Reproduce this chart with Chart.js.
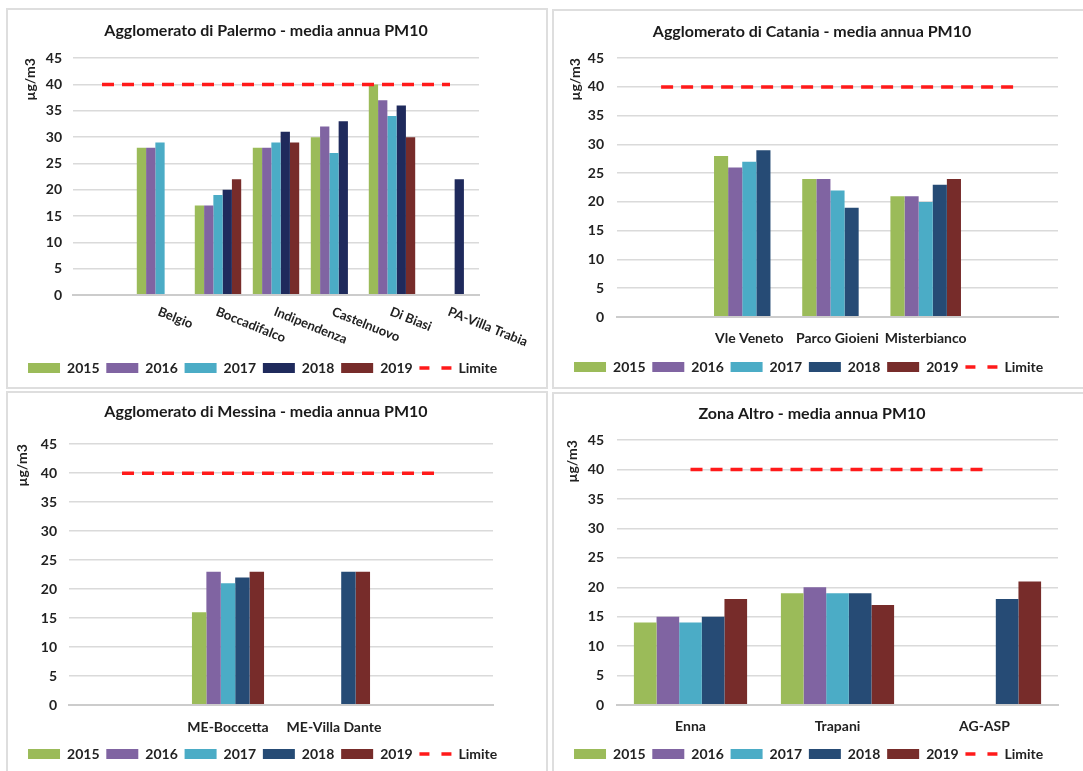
<!DOCTYPE html>
<html>
<head>
<meta charset="utf-8">
<script src="https://cdn.jsdelivr.net/npm/chart.js@4.4.0/dist/chart.umd.min.js"></script>
<style>
  html, body { margin: 0; padding: 0; background: #fff; width: 1083px; height: 771px; overflow: hidden; }
  .panel { position: absolute; border: 2px solid #dedede; box-sizing: border-box; overflow: hidden; background: #fff; }
  .panel canvas { position: absolute; left: 0; top: 0; }
</style>
</head>
<body>
<div class="panel" style="left:6px;top:8px;width:542px;height:381px;"><canvas id="c1" width="538" height="377"></canvas></div>
<div class="panel" style="left:552px;top:9px;width:540px;height:380px;"><canvas id="c2" width="529" height="376"></canvas></div>
<div class="panel" style="left:6px;top:391px;width:542px;height:400px;"><canvas id="c3" width="538" height="378"></canvas></div>
<div class="panel" style="left:552px;top:392px;width:540px;height:400px;"><canvas id="c4" width="529" height="377"></canvas></div>
<script>
// data (µg/m3, media annua PM10)
const years = ['2015', '2016', '2017', '2018', '2019'];

const palermoStations = ['', 'Belgio', 'Boccadifalco', 'Indipendenza', 'Castelnuovo', 'Di Biasi', 'PA-Villa Trabia'];
const palermo2015 = [null, 28, 17, 28, 30, 40, null];
const palermo2016 = [null, 28, 17, 28, 32, 37, null];
const palermo2017 = [null, 29, 19, 29, 27, 34, null];
const palermo2018 = [null, null, 20, 31, 33, 36, 22];
const palermo2019 = [null, null, 22, 29, null, 30, null];
const palermoLimit = [40, 40, 40, 40, 40, 40, 40];

const cataniaStations = ['', 'Vle Veneto', 'Parco Gioieni', 'Misterbianco', ''];
const catania2015 = [null, 28, 24, 21, null];
const catania2016 = [null, 26, 24, 21, null];
const catania2017 = [null, 27, 22, 20, null];
const catania2018 = [null, 29, 19, 23, null];
const catania2019 = [null, null, null, 24, null];
const cataniaLimit = [40, 40, 40, 40, 40];

const messinaStations = ['', 'ME-Boccetta', 'ME-Villa Dante', ''];
const messina2015 = [null, 16, null, null];
const messina2016 = [null, 23, null, null];
const messina2017 = [null, 21, null, null];
const messina2018 = [null, 22, 23, null];
const messina2019 = [null, 23, 23, null];
const messinaLimit = [40, 40, 40, 40];

const altroStations = ['Enna', 'Trapani', 'AG-ASP'];
const altro2015 = [14, 19, null];
const altro2016 = [15, 20, null];
const altro2017 = [14, 19, null];
const altro2018 = [15, 19, 18];
const altro2019 = [18, 17, 21];
const altroLimit = [40, 40, 40];

const yMin = 0, yMax = 45, yStep = 5;

// styles
const barColors = ['#9BBB59', '#8064A2', '#4BACC6', '#264B75', '#772C2A'];
const textColor = '#222222';

Chart.defaults.font.family = 'Lato';
Chart.defaults.font.weight = 'bold';
Chart.defaults.color = textColor;

function rotatedLabels(labels) {
    return {
        id: 'rotatedLabels',
        afterDraw(chart) {
            const xs = chart.scales.x;
            const ctx = chart.ctx;
            ctx.save();
            ctx.font = 'bold 13px Lato';
            ctx.fillStyle = textColor;
            ctx.textAlign = 'left';
            ctx.textBaseline = 'top';
            labels.forEach((s, i) => {
                if (!s) return;
                ctx.save();
                ctx.translate(xs.getPixelForValue(i) + 1, xs.top + 10);
                ctx.rotate(22 * Math.PI / 180);
                ctx.fillText(s, 0, 0);
                ctx.restore();
            });
            ctx.restore();
        }
    };
}

function makeChart(id, title, labels, series, limit, g) {
    const datasets = series.map((vals, k) => ({
        type: 'bar',
        label: years[k],
        data: vals,
        backgroundColor: (k === 3 && g.c18) ? g.c18 : barColors[k],
        borderWidth: 0,
        categoryPercentage: g.cat,
        barPercentage: 1,
    }));
    datasets.push({
        type: 'line',
        label: 'Limite',
        data: limit,
        borderColor: '#FF1A1A',
        borderWidth: 3.5,
        borderDash: [12, 8],
        pointRadius: 0,
        fill: false,
        order: -1,
    });
    return new Chart(document.getElementById(id), {
        type: 'bar',
        data: { labels: labels, datasets: datasets },
        plugins: g.rotate ? [rotatedLabels(labels)] : [],
        options: {
            responsive: false,
            animation: false,
            events: [],
            layout: { padding: { top: 0, left: 0, right: g.padR, bottom: g.padB } },
            scales: {
                x: {
                    grid: { display: false },
                    border: { display: true, color: '#cccccc', width: 2 },
                    ticks: { display: !g.rotate, padding: g.xPad, font: { size: 14, weight: 'bold' }, color: textColor, maxRotation: 0, autoSkip: false },
                    afterFit: (s) => { s.height = g.xH; },
                },
                y: {
                    min: yMin,
                    max: yMax,
                    border: { display: false },
                    grid: {
                        drawTicks: false,
                        color: (c) => c.tick && c.tick.value === 0 ? '#cccccc' : '#dadada',
                        lineWidth: (c) => c.tick && c.tick.value === 0 ? 2 : 1.5,
                    },
                    ticks: { stepSize: yStep, padding: g.yPad, font: { size: 14, weight: 'bold' }, color: textColor },
                    title: { display: true, text: 'µg/m3', align: 'end', font: { size: 14, weight: 'bold' }, color: textColor, padding: { top: g.yTitlePad, bottom: 0 } },
                    afterFit: (s) => { s.width = g.yW; },
                },
                yR: {
                    type: 'linear',
                    position: 'right',
                    display: true,
                    grid: { display: false, drawTicks: false },
                    border: { display: false },
                    ticks: { display: false },
                    afterFit: (s) => { s.width = g.rightW; },
                },
            },
            plugins: {
                tooltip: { enabled: false },
                title: {
                    display: true,
                    text: title,
                    font: { size: 16, weight: 'bold' },
                    color: '#1a1a1a',
                    padding: { top: g.tTop, bottom: g.tBottom },
                },
                legend: {
                    position: 'bottom',
                    labels: {
                        usePointStyle: true,
                        pointStyleWidth: 32,
                        boxHeight: 10,
                        padding: 0,
                        font: { size: 14, weight: 'bold' },
                        color: textColor,
                        sort: (a, b) => a.datasetIndex - b.datasetIndex,
                        generateLabels: (chart) => {
                            const items = Chart.defaults.plugins.legend.labels.generateLabels(chart);
                            items.forEach((it) => {
                                it.text = it.text + '  ';
                                if (it.datasetIndex === years.length) {
                                    it.pointStyle = 'line';
                                    it.lineDash = [10, 12];
                                    it.lineWidth = 3.5;
                                    it.strokeStyle = '#FF1A1A';
                                } else {
                                    it.pointStyle = 'rect';
                                    it.lineWidth = 0;
                                }
                            });
                            return items;
                        },
                    },
                },
            },
        },
    });
}

makeChart('c1', 'Agglomerato di Palermo - media annua PM10', palermoStations,
    [palermo2015, palermo2016, palermo2017, palermo2018, palermo2019], palermoLimit,
    { c18: '#1F2A5C', cat: 0.8, rotate: true, yW: 65, yPad: 11, yTitlePad: 14, rightW: 45, padR: 22, padB: 2, tTop: 11, tBottom: 18, xH: 66, xPad: 0 });

makeChart('c2', 'Agglomerato di Catania - media annua PM10', cataniaStations,
    [catania2015, catania2016, catania2017, catania2018, catania2019], cataniaLimit,
    { cat: 0.8, yW: 63, yPad: 13, yTitlePad: 13, rightW: 12, padR: 13, padB: 3, tTop: 11, tBottom: 17, xH: 43, xPad: 5 });

makeChart('c3', 'Agglomerato di Messina - media annua PM10', messinaStations,
    [messina2015, messina2016, messina2017, messina2018, messina2019], messinaLimit,
    { cat: 0.68, yW: 61, yPad: 12, yTitlePad: 6, rightW: 31, padR: 22, padB: 0, tTop: 9, tBottom: 23, xH: 42, xPad: 6 });

makeChart('c4', 'Zona Altro - media annua PM10', altroStations,
    [altro2015, altro2016, altro2017, altro2018, altro2019], altroLimit,
    { cat: 0.77, yW: 63, yPad: 13, yTitlePad: 10, rightW: 12, padR: 13, padB: 0, tTop: 10, tBottom: 17, xH: 42, xPad: 5 });
</script>
</body>
</html>
